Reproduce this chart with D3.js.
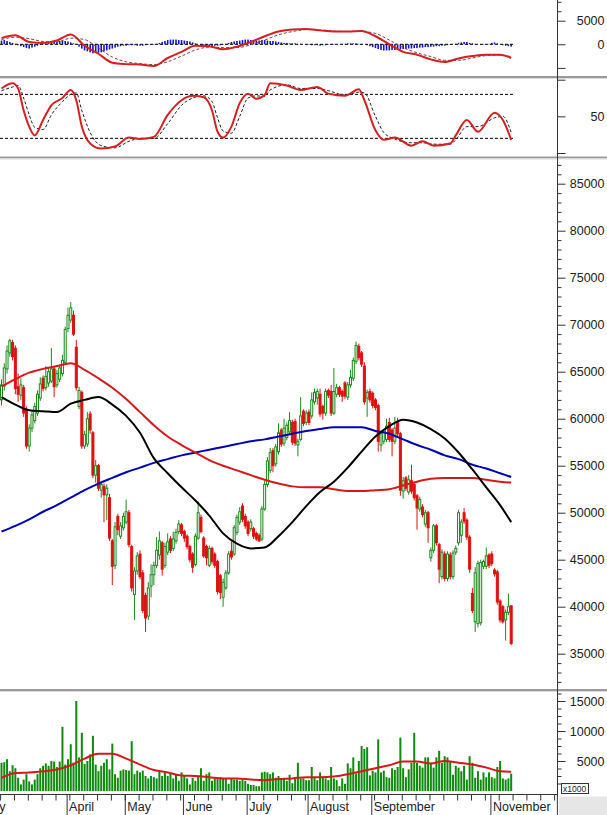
<!DOCTYPE html>
<html>
<head>
<meta charset="utf-8">
<script src="https://cdnjs.cloudflare.com/ajax/libs/d3/7.8.5/d3.min.js"></script>
<style>
    body { margin: 0; background: #fff; }
    svg { display: block; font-family: Arial, "Liberation Sans", sans-serif; }
    .lbl { font-size: 12.5px; fill: #222; }
</style>
</head>
<body>
<svg id="chart"></svg>

<script>

    // daily bars: [open, close, high, low]
    var ohlc = [
        [62000,63600,64200,61400],[63500,65400,65900,63000],[65300,67200,67800,64800],[67000,68300,68500,66600],[68100,66600,68400,66200],
        [67500,63200,67800,62600],[63400,62600,64800,61800],[62500,63600,64300,62000],[63300,60600,63600,60200],[61000,57100,61300,56800],
        [57100,59000,59400,56500],[59000,60400,60800,58600],[59800,61300,61700,59500],[60600,62600,63000,60300],[62200,63700,64400,61900],
        [64300,63200,64600,62900],[63300,64500,65600,63000],[63800,65000,65400,63400],[64000,65300,67500,63800],[65300,63400,65600,62300],
        [63600,64800,65200,63300],[64200,65400,65800,63900],[64800,66200,66800,64500],[66000,69500,69800,65800],[69600,71000,71800,69200],
        [70500,71800,72400,70200],[71000,69000,71500,68800],[67600,63300,68400,63000],[61300,63000,63400,61000],[62800,57100,63000,56800],
        [57100,58300,58700,56800],[57300,60000,60700,57000],[60500,58800,60800,58400],[58500,54000,58700,53700],[54000,55000,55600,53200],
        [55000,52600,55200,52300],[52400,53000,53400,51600],[52800,51900,53100,49000],[51900,52600,53000,49200],[51600,47300,52000,47000],
        [47000,44300,47200,42300],[44400,48500,49000,44000],[49600,48200,49900,47600],[47500,48600,49000,47200],[48400,49600,50000,48100],
        [49000,50100,51400,48800],[50000,46600,50300,46300],[46400,42000,46600,41600],[41300,43800,44200,38600],[43800,45400,45800,43400],
        [45600,43200,46000,42900],[43600,39600,43900,39300],[41200,38800,41500,37300],[39000,42000,42600,38600],[42200,43400,44500,41000],
        [43400,44400,44800,42300],[44400,46000,47400,44100],[45500,47000,48000,45000],[46800,44000,47000,43300],[44400,46400,46800,44100],
        [45800,46900,47800,45500],[47200,46000,47500,45700],[46200,47200,48000,45900],[47000,47900,48300,46700],[48000,48800,49200,47700],
        [48700,47800,48900,47500],[48000,47300,48200,46900],[47500,46400,47700,46100],[46400,45000,46600,44700],[45600,44200,45800,43600],
        [44500,47500,47800,44300],[47300,50000,51200,47100],[49500,48000,49800,47800],[47300,45400,47500,45200],[46400,45200,46600,44400],
        [44400,46200,46500,44200],[46200,44800,46400,44500],[45600,44400,45800,44100],[44800,41600,45000,41300],[43300,41500,43500,40800],
        [41000,42600,43000,40000],[42000,43600,43900,41800],[43600,45600,45900,43400],[45900,45300,47100,45000],[45600,48400,48700,45400],
        [47900,49500,49800,47600],[49000,50100,50600,48700],[50700,49300,51000,49000],[49600,48600,49900,48300],[49000,47800,49200,47500],
        [48300,49000,49300,48000],[48300,47500,48500,47200],[47800,47200,48000,47000],[47600,47000,47800,46900],[47200,50400,50700,47000],
        [50400,53000,53400,50200],[53000,55500,55900,52700],[54500,56400,56900,54200],[56600,55000,56900,54300],[55200,57000,57300,54900],
        [56500,58500,59500,56200],[58800,57300,59000,57000],[57400,59000,60000,57100],[58000,59300,59600,57700],[58600,59800,60700,58300],
        [59600,57500,59900,57200],[59700,57400,60000,57100],[57200,57600,57900,56000],[57800,60300,62300,57600],[60800,59500,61000,59200],
        [59600,60600,60900,59300],[60700,59600,61000,59300],[60300,62000,62800,60000],[61800,62800,63200,61500],[62200,62900,63200,61500],
        [62600,60500,63200,60200],[61300,60600,61500,59900],[60600,62900,63200,60300],[63000,62500,63200,62200],[62900,60600,63600,60300],
        [60600,62900,65400,60400],[62600,63300,63700,62300],[63300,62600,63500,62300],[62900,62400,63100,61800],[63800,62400,64000,62100],
        [62300,63600,63900,62000],[63600,64400,65200,63300],[64300,66200,66500,64000],[66100,67800,68200,65800],[67700,66500,68000,66200],
        [67000,65800,67200,65500],[65600,61800,66000,61500],[62200,62800,63100,60200],[62900,62000,63200,61700],[62700,61400,62900,61100],
        [62000,61200,62200,60900],[61400,57600,61600,56500],[57200,58400,58700,56500],[57600,58600,58900,57300],[57800,59200,60000,57500],
        [59600,57800,60100,57500],[58800,57600,59000,56000],[57600,59000,60200,57300],[59600,58400,60100,58100],[58400,52400,58600,51800],
        [52300,53400,53800,51500],[53700,52600,53900,52300],[52200,53500,54000,51900],[53400,52300,55100,52000],[53000,51600,53200,51300],
        [51800,50500,52000,48200],[50400,51400,51700,50100],[50600,49800,50900,49500],[48800,50000,50300,48500],[50000,48400,50200,46800],
        [45200,46000,46300,44800],[46000,48600,48800,45700],[48600,46800,48800,46500],[46600,44000,46800,42500],[43200,45800,46100,42900],
        [45600,43000,45900,42700],[43000,45600,45900,42700],[45500,43200,45800,42900],[43200,45700,46000,42900],[45800,46200,46500,45500],
        [46800,50000,50300,46500],[47600,49000,49300,46800],[50000,49100,50500,48800],[49200,47400,49400,47100],[47400,44000,47600,43600],
        [41400,39600,42000,39300],[38400,43600,44200,37300],[38200,44600,44900,37800],[38300,44700,45000,38000],[44300,44800,45000,44000],
        [44300,45400,46300,44000],[45500,44400,45700,44100],[45600,44600,45900,44300],[43900,43500,44100,43200],[43700,40500,43900,40200],
        [40600,38600,40800,38300],[40000,38400,40200,38200],[38600,39400,39700,36400],[39400,40000,41400,39100],[40100,36100,40100,35900]
    ];

    // volume, x1000
    var volume = [
        4700,4800,5300,3300,4300, 3800,2200,1100,1900,2800, 1600,1100,1900,2800,3800, 4200,4600,4200,5000,4900,
        4000,4900,10700,4400,5300, 7800,4700,15000,5600,9700, 4500,5000,6100,9200,4400, 3300,4200,4700,5300,3600,
        7900,2800,2200,3400,3600, 3500,3400,8300,2800,3400, 3100,3400,2500,2100,2500, 2300,2100,3400,2500,3100,
        2500,2900,2100,2800,1700, 3100,2500,2100,1100,2200, 1700,2500,3800,1700,2800, 3100,1700,2100,2200,2300,
        2100,2100,1200,2100,1900, 1900,1700,1900,1700,1200, 1000,1000,800,800,3100, 3200,3100,2800,3100,2200,
        2500,2100,2100,1700,2700, 1300,2100,4700,2100,2100, 1800,1800,4000,2300,1800, 3100,2200,2100,1800,4000,
        2100,1800,800,2100,1200, 4600,3800,5600,2900,5000, 7500,7000,7300,2600,3400, 3100,8600,3100,3400,2300,
        2200,3800,3500,4000,8900, 3800,2300,3600,4700,9700, 4700,4200,3900,5600,5600, 4700,3900,5600,6700,4700,
        5800,5600,5000,2700,4200, 3900,3300,4200,1900,5800, 4700,2200,3300,1900,3100, 2300,3100,2300,2100,4000,
        5000,2100,1900,2100,2900
    ];

    // sampled indicator lines (bar index -> value)
    var maIdx = [0,5,10,15,20,25,30,35,40,45,50,55,60,65,70,75,80,85,90,95,100,105,110,115,120,125,130,135,140,145,150,155,160,165,170,175,180,184];
    var maBlack = [62300,61500,60900,60800,60700,61600,62000,62300,61500,60300,58500,55800,54200,52700,51300,49700,47800,46700,46200,46300,
                   47500,49000,50700,52200,53300,54800,56500,58100,59200,59900,59600,58900,57900,56400,54600,52700,50800,49000];
    var maRed = [63400,64200,64900,65300,65600,65900,65200,64300,63300,62100,60700,59300,58100,57200,56400,55600,55000,54500,54000,53500,
                 53100,52800,52700,52700,52500,52300,52300,52400,52500,52900,53300,53600,53700,53700,53700,53500,53300,53200];
    var maBlue = [48000,48600,49300,50100,50800,51600,52400,53100,53700,54300,54800,55300,55700,56100,56400,56700,57000,57300,57600,57800,
                  58100,58400,58700,58900,59100,59100,59100,58700,58400,57800,57200,56700,56100,55700,55100,54700,54200,53800];
    var volMa = [2200,3000,3100,3300,3600,4300,5400,6200,6200,5400,4400,3500,3100,2600,2500,2300,2100,2100,1900,1800,
                 2000,2100,2300,2300,2400,2800,3300,3800,4300,4900,4900,4600,5000,4700,4400,3900,3300,3200];
    var macdLine = [1300,1900,500,300,800,2100,-300,-2000,-3900,-4200,-4300,-4600,-2900,-1600,-300,-400,-1050,-500,500,1700,
                    2700,3150,3250,2950,2700,2700,2800,1700,0,-1600,-2200,-3200,-3750,-3000,-2500,-2200,-2200,-2900];
    var macdSignal = [1000,1500,1200,600,500,1300,1000,-800,-2700,-3700,-4100,-4300,-3700,-2500,-1200,-600,-700,-700,-100,900,
                      2000,2700,3100,3050,2800,2700,2700,2300,900,-700,-1800,-2600,-3400,-3400,-2900,-2400,-2300,-2600];
    var macdHist = [
        800,900,700,500,300, 100,-200,-400,-600, -800,-900,-700,-500, -300,-100,100,200,300,
        400,500,600,700,800,700, 600,400,200,-100, -500,-900,-1300,-1500, -1700,-1900,-1800,-1800,-1700,-1500,
        -1300,-1100,-900,-700,-500, -400,-300,-300,-200,-200,-200,-300,-300, -300,-200,-100,-100,-100,100,
        300,500,700,900,1000,1000, 1000,900,900,800,700,600, 400,200,0,-200,-300,-400, -400,-400,-300,-300,-200,-100,
        100,300,500,600,700,800, 900,1000,1000,900,800,800, 800,900,900,800,700,700, 600,500,400,300,300,200,
        200,200,100,100,0,-100,-100,-200, -200,-200,-300,-200,-200,-100,-100,-100, 0,0,100,100,200,200,200,200,100,100,
        0,-200,-400,-600,-800,-1000, -1200,-1300,-1300,-1300,-1200,-1200,-1100,-1100, -1000,-1000,-900,-900,-800,-800,-700,-700,
        -600,-600,-500,-500,-400,-400,-300,-300, -200,-100,0,100,300,400, 500,500,300,200,100,0, -100,-100,0,100,300,400,
        200,0,-200,-300,-400,-500
    ];
    var stochIdx = [0,4,6,8,10,12,15,18,22,25,27,29,32,36,41,46,50,55,60,65,69,73,76,78,80,83,86,89,92,95,97,103,108,114,118,124,129,131,135,138,142,148,152,156,162,164,168,172,178,181,184];
    var stochK = [88,95,88,58,36,24,45,65,75,86,72,36,13,6,9,21,19,22,52,72,78,76,58,29,21,36,68,81,74,79,95,92,86,90,81,78,87,72,31,18,21,10,16,10,13,24,45,29,55,45,18];
    var stochD = [85,90,92,75,52,35,32,52,70,80,82,58,28,10,7,16,20,20,40,65,75,78,70,48,30,27,50,75,78,77,86,93,88,88,85,79,83,82,50,28,19,14,14,12,12,18,36,36,48,50,28];

    // month names and the bar index where each month starts (last one is only a tick)
    var monthNames = ["February", "April", "May", "June", "July", "August", "September", "November", ""];
    var monthStart = [-17, 24, 45, 66, 89, 111, 134, 177, 201];

    var priceTicks = [35000, 40000, 45000, 50000, 55000, 60000, 65000, 70000, 75000, 80000, 85000];
    var volTicks = [5000, 10000, 15000];

    var width = 607, height = 815, axisX = 557;
    var upColor = "#1a8a1a", downColor = "#e01010";

    var svg = d3.select("#chart").attr("width", width).attr("height", height);

    var N = ohlc.length;
    var x = d3.scaleLinear().domain([0, N - 1]).range([1.5, 1.5 + 2.77 * (N - 1)]);

    var yMacd = d3.scaleLinear().domain([-5000, 5000]).range([67.9, 20.7]);
    var yStoch = d3.scaleLinear().domain([0, 100]).range([153, 79.7]);
    var yPrice = d3.scaleLinear().domain([35000, 85000]).range([653.7, 183.7]);
    var yVol = d3.scaleLinear().domain([0, 15000]).range([791, 701]);

    // clip areas of the four panes
    var defs = svg.append("defs");
    [["macd", 0, 75.5], ["stoch", 78, 156], ["price", 158.5, 688.5], ["vol", 691, 794]].forEach(function(p) {
        defs.append("clipPath").attr("id", "clip-" + p[0])
            .append("rect").attr("x", 0).attr("y", p[1]).attr("width", axisX).attr("height", p[2] - p[1]);
    });

    function drawLine(g, idx, vals, y, color, w, dash) {
        var line = d3.line()
            .x(function(d, k) { return x(idx[k]); })
            .y(function(d) { return y(d); })
            .curve(d3.curveMonotoneX);
        g.append("path").datum(vals)
            .attr("d", line)
            .attr("fill", "none")
            .attr("stroke", color)
            .attr("stroke-width", w)
            .attr("stroke-linejoin", "round")
            .attr("stroke-dasharray", dash || null);
    }

    function dashedLevel(g, y, v) {
        g.append("line")
            .attr("x1", 0).attr("x2", x(N - 1) + 2)
            .attr("y1", y(v)).attr("y2", y(v))
            .attr("stroke", "#000").attr("stroke-width", 1)
            .attr("stroke-dasharray", "3,2");
    }

    // ---- MACD pane
    var gMacd = svg.append("g").attr("clip-path", "url(#clip-macd)");
    gMacd.selectAll("rect.h").data(macdHist).enter().append("rect")
        .attr("class", "h")
        .attr("x", function(d, i) { return x(i) - 0.8; })
        .attr("width", 1.6)
        .attr("y", function(d) { return Math.min(yMacd(d), yMacd(0)); })
        .attr("height", function(d) { return Math.abs(yMacd(d) - yMacd(0)); })
        .attr("fill", "#1414c8");
    dashedLevel(gMacd, yMacd, 0);
    drawLine(gMacd, maIdx, macdSignal, yMacd, "#8a4040", 1, "3,2");
    drawLine(gMacd, maIdx, macdLine, yMacd, "#d42020", 2);

    // ---- Stochastic pane
    var gStoch = svg.append("g").attr("clip-path", "url(#clip-stoch)");
    dashedLevel(gStoch, yStoch, 80);
    dashedLevel(gStoch, yStoch, 20);
    drawLine(gStoch, stochIdx, stochD, yStoch, "#222", 1, "3,2");
    drawLine(gStoch, stochIdx, stochK, yStoch, "#d42020", 2);

    // ---- Price pane
    var gPrice = svg.append("g").attr("clip-path", "url(#clip-price)");
    var candle = gPrice.selectAll("g.c").data(ohlc).enter().append("g").attr("class", "c");
    candle.append("line")
        .attr("x1", function(d, i) { return x(i); })
        .attr("x2", function(d, i) { return x(i); })
        .attr("y1", function(d) { return yPrice(d[2]); })
        .attr("y2", function(d) { return yPrice(d[3]); })
        .attr("stroke", function(d) { return d[1] >= d[0] ? upColor : downColor; })
        .attr("stroke-width", 1);
    candle.append("rect")
        .attr("x", function(d, i) { return x(i) - 1; })
        .attr("width", 2)
        .attr("y", function(d) { return yPrice(Math.max(d[0], d[1])); })
        .attr("height", function(d) { return Math.max(0.8, Math.abs(yPrice(d[0]) - yPrice(d[1]))); })
        .attr("fill", function(d) { return d[1] >= d[0] ? "#fff" : downColor; })
        .attr("stroke", function(d) { return d[1] >= d[0] ? upColor : downColor; })
        .attr("stroke-width", 1);

    drawLine(gPrice, maIdx, maBlue, yPrice, "#0000b4", 2);
    drawLine(gPrice, maIdx, maRed, yPrice, "#d81818", 2);
    drawLine(gPrice, maIdx, maBlack, yPrice, "#000", 2);

    // ---- Volume pane
    var gVol = svg.append("g").attr("clip-path", "url(#clip-vol)");
    gVol.selectAll("rect.v").data(volume).enter().append("rect")
        .attr("class", "v")
        .attr("x", function(d, i) { return x(i) - 1; })
        .attr("width", 2)
        .attr("y", function(d) { return yVol(d); })
        .attr("height", function(d) { return yVol(0) - yVol(d); })
        .attr("fill", "#0f8a0f");
    drawLine(gVol, maIdx, volMa, yVol, "#d81818", 2);

    // ---- pane separators
    [76, 156.5, 689].forEach(function(y) {
        svg.append("rect").attr("x", 0).attr("y", y).attr("width", width).attr("height", 2).attr("fill", "#9a9a9a");
        svg.append("rect").attr("x", 0).attr("y", y + 2).attr("width", width).attr("height", 1).attr("fill", "#dcdcdc");
    });

    // ---- right axes
    function rightAxis(y, major, minor, labelled) {
        var g = svg.append("g").attr("transform", "translate(" + (axisX + 0.5) + ",0)");
        g.append("g").call(d3.axisRight(y).tickValues(minor).tickSize(4).tickFormat(""));
        var m = g.append("g").call(d3.axisRight(y).tickValues(major).tickSize(8)
            .tickFormat(function(v) { return labelled.indexOf(v) >= 0 ? d3.format("d")(v) : ""; }));
        m.selectAll("text").attr("class", "lbl").attr("x", 47).attr("text-anchor", "end");
        g.selectAll(".domain").remove();
        g.selectAll(".tick line").attr("stroke", "#333");
    }

    rightAxis(yMacd, [-5000, 0, 5000], [7000, 9000], [0, 5000]);
    rightAxis(yStoch, [0, 50, 100], [], [50]);
    rightAxis(yPrice, priceTicks, d3.range(32000, 88000, 1000).filter(function(v) { return v % 5000 !== 0; }), priceTicks);
    rightAxis(yVol, volTicks, [1250, 2500, 3750, 6250, 7500, 8750, 11250, 12500, 13750, 16250], volTicks);

    svg.append("line")
        .attr("x1", axisX + 0.5).attr("x2", axisX + 0.5)
        .attr("y1", 0).attr("y2", 797)
        .attr("stroke", "#333");

    // ---- bottom time axis
    var gx = svg.append("g").attr("transform", "translate(0,794.5)");
    var weekTicks = d3.range(0, 205, 5).map(function(i) { return i - 0.5; })
        .filter(function(v) { return x(v) < axisX - 2; });
    gx.append("g").call(d3.axisBottom(x).tickValues(weekTicks).tickSize(6).tickFormat(""));
    var mx = gx.append("g").call(d3.axisBottom(x)
        .tickValues(monthStart.map(function(i) { return i - 0.5; }))
        .tickSize(21)
        .tickFormat(function(v, k) { return monthNames[k]; }));
    mx.selectAll("text").attr("class", "lbl").attr("x", 2).attr("y", 8).attr("dy", "0.71em").attr("text-anchor", "start");
    gx.selectAll(".domain").remove();
    gx.selectAll(".tick line").attr("stroke", "#333");
    gx.append("line").attr("x1", 0).attr("x2", axisX).attr("y1", 0).attr("y2", 0).attr("stroke", "#333");

    // corner box and volume unit
    svg.append("rect").attr("x", axisX + 2).attr("y", 796.5).attr("width", width - axisX - 2).attr("height", 19).attr("fill", "#e6e6e6");
    svg.append("rect").attr("x", 561.5).attr("y", 783.5).attr("width", 27).attr("height", 10)
        .attr("fill", "#fff").attr("stroke", "#333").attr("stroke-width", 1);
    svg.append("text").attr("x", 563).attr("y", 791.5).attr("font-size", "8.5px").attr("fill", "#222").text("x1000");

</script>

</body>
</html>
